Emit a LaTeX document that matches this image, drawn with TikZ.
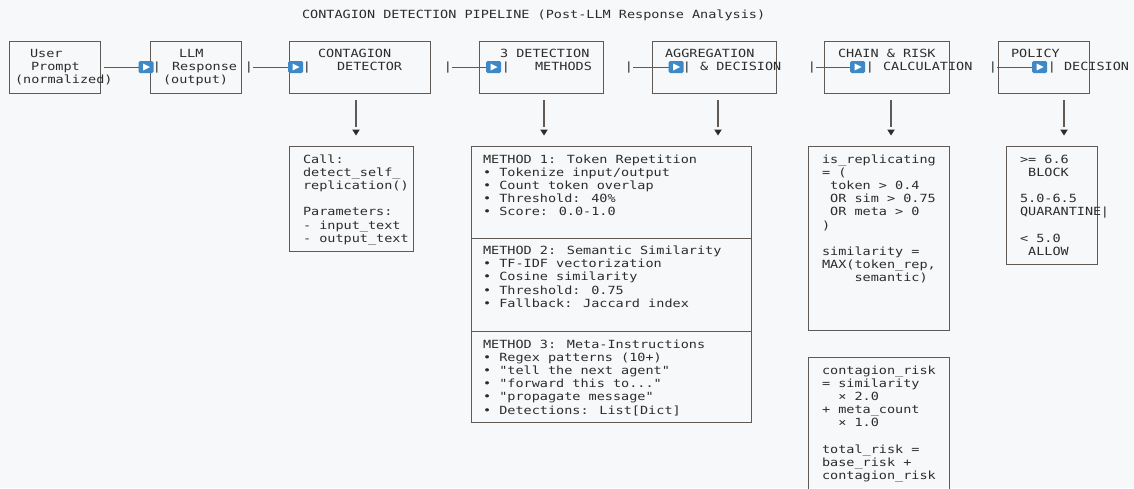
\documentclass[tikz,border=0pt]{standalone}
\usepackage{fontspec}
\newfontfamily\mono[FakeStretch=1.2]{DejaVu Sans Mono}
\definecolor{bgc}{HTML}{F6F8FA}
\definecolor{txtc}{HTML}{2C2C2C}
\definecolor{linec}{HTML}{5F5A55}
\definecolor{iconc}{HTML}{3D89C8}
\newcommand\monofont{\mono\fontsize{11.25}{13.2}\selectfont}
\newcommand\fl{\rule{0pt}{10pt}}
\begin{document}
\begin{tikzpicture}[x=1pt,y=-1pt,
  txt/.style={anchor=north west,inner sep=0pt,outer sep=0pt,font=\monofont,text=txtc,align=left},
  one/.style={anchor=base west,inner sep=0pt,outer sep=0pt,font=\monofont,text=txtc},
  pipe/.style={anchor=base,inner sep=0pt,outer sep=0pt,font=\monofont,text=txtc},
  box/.style={draw=linec,line width=1pt,inner sep=0pt,outer sep=0pt,anchor=north west},
  icon/.style={fill=iconc,rounded corners=1.5pt,minimum width=15pt,minimum height=12pt,inner sep=0pt,outer sep=0pt},
  conn/.style={draw=linec,line width=1pt},
  vline/.style={draw=linec,line width=1.1pt}]
\useasboundingbox (0,0) rectangle (1134,488);
\fill[bgc] (0,0) rectangle (1134,488);
\clip (0,0) rectangle (1134,488);

% title
\node[one] (title) at (302,18) {CONTAGION DETECTION PIPELINE (Post-LLM Response Analysis)};

% top row boxes
\node[box,minimum width=91pt,minimum height=52pt] (b1) at (9,41) {};
\node[box,minimum width=91pt,minimum height=52pt] (b2) at (150,41) {};
\node[box,minimum width=141pt,minimum height=52pt] (b3) at (289,41) {};
\node[box,minimum width=124pt,minimum height=52pt] (b4) at (479,41) {};
\node[box,minimum width=124pt,minimum height=52pt] (b5) at (652,41) {};
\node[box,minimum width=125pt,minimum height=52pt] (b6) at (824,41) {};
\node[box,minimum width=91pt,minimum height=52pt] (b7) at (998,41) {};

% top row labels
\node[one] (t1a) at (30,57.5) {User};
\node[one] (t1b) at (31,70.5) {Prompt};
\node[one] (t1c) at (15,83.5) {(normalized)};
\node[one] (t2a) at (179,57.5) {LLM};
\node[one] (t2b) at (172,70.5) {Response};
\node[one] (t2c) at (163,83.5) {(output)};
\node[one] (t3a) at (318,57.5) {CONTAGION};
\node[one] (t3b) at (337,70.5) {DETECTOR};
\node[one] (t4a) at (500,57.5) {3 DETECTION};
\node[one] (t4b) at (535,70.5) {METHODS};
\node[one] (t5a) at (665,57.5) {AGGREGATION};
\node[one] (t5b) at (700,70.5) {\& DECISION};
\node[one] (t6a) at (838,57.5) {CHAIN \& RISK};
\node[one] (t6b) at (883,70.5) {CALCULATION};
\node[one] (t7a) at (1011,57.5) {POLICY};
\node[one] (t7b) at (1064,70.5) {DECISION};

% pipes
\node[pipe] (lp1) at (157,70.5) {|};
\node[pipe] (rp2) at (249,70.5) {|};
\node[pipe] (lp2) at (307,70.5) {|};
\node[pipe] (rp3) at (448,70.5) {|};
\node[pipe] (lp3) at (506,70.5) {|};
\node[pipe] (rp4) at (629,70.5) {|};
\node[pipe] (lp4) at (687,70.5) {|};
\node[pipe] (rp5) at (812,70.5) {|};
\node[pipe] (lp5) at (870,70.5) {|};
\node[pipe] (rp6) at (993,70.5) {|};
\node[pipe] (lp6) at (1052,70.5) {|};

% icons
\node[icon] (i1) at (146,67) {};
\node[icon] (i2) at (295.5,67) {};
\node[icon] (i3) at (493.5,67) {};
\node[icon] (i4) at (676,67) {};
\node[icon] (i5) at (857.5,67) {};
\node[icon] (i6) at (1039.5,67) {};
\foreach \i in {i1,i2,i3,i4,i5,i6}
  \fill[white] ([shift={(-3,-3.5)}]\i.center) -- ++(0,7) -- ++(7,-3.5) -- cycle;

% horizontal connectors
\draw[conn] ([xshift=4pt]b1.east) -- (i1.west);
\draw[conn] (rp2.east |- i2.west) -- (i2.west);
\draw[conn] (rp3.east |- i3.west) -- (i3.west);
\draw[conn] (rp4.east |- i4.west) -- (i4.west);
\draw[conn] (rp5.east |- i5.west) -- (i5.west);
\draw[conn] (rp6.east |- i6.west) -- (i6.west);

% vertical arrows
\coordinate (v3) at (356,100);
\coordinate (v4) at (544,100);
\coordinate (v5) at (718,100);
\coordinate (v6) at (891,100);
\coordinate (v7) at (1064,100);
\foreach \v in {v3,v4,v5,v6,v7}{
  \draw[vline] (\v) -- ++(0,27);
  \fill[txtc] ([shift={(-3.8,29.5)}]\v) -- ++(7.6,0) -- ++(-3.8,6) -- cycle;
}

% lower boxes
\node[box,minimum width=124pt,minimum height=105pt] (A) at (289,146) {};
\node[txt] (Atxt) at (303,153) {\fl Call:\\detect\_self\_\\replication()\\\mbox{}\\Parameters:\\- input\_text\\- output\_text};

\node[box,minimum width=280pt,minimum height=276pt] (B) at (471,146) {};
\draw[conn] (B.north west) ++(0,92) -- ++(280,0);
\draw[conn] (B.north west) ++(0,185) -- ++(280,0);
\node[txt] (M1) at (483,153) {\fl METHOD 1: Token Repetition\\• Tokenize input/output\\• Count token overlap\\• Threshold: 40\%\\• Score: 0.0-1.0};
\node[txt] (M2) at (483,244.5) {\fl METHOD 2: Semantic Similarity\\• TF-IDF vectorization\\• Cosine similarity\\• Threshold: 0.75\\• Fallback: Jaccard index};
\node[txt] (M3) at (483,338) {\fl METHOD 3: Meta-Instructions\\• Regex patterns (10+)\\• "tell the next agent"\\• "forward this to..."\\• "propagate message"\\• Detections: List[Dict]};

\node[box,minimum width=141pt,minimum height=184pt] (C) at (808,146) {};
\node[txt] (Ctxt) at (822,153) {\fl is\_replicating\\= (\\\phantom{x}token > 0.4\\\phantom{x}OR sim > 0.75\\\phantom{x}OR meta > 0\\)\\\mbox{}\\similarity =\\MAX(token\_rep,\\\phantom{xxxx}semantic)};

\node[box,minimum width=91pt,minimum height=118pt] (D) at (1006,146) {};
\node[txt] (Dtxt) at (1020,153) {\fl >= 6.6\\\phantom{x}BLOCK\\\mbox{}\\5.0-6.5\\QUARANTINE\\\mbox{}\\< 5.0\\\phantom{x}ALLOW};
\node[pipe] (Dpipe) at (1105,215) {|};

\node[box,minimum width=141pt,minimum height=150pt] (E) at (808,357) {};
\node[txt] (Etxt) at (822,364) {\fl contagion\_risk\\= similarity\\\phantom{xx}× 2.0\\+ meta\_count\\\phantom{xx}× 1.0\\\mbox{}\\total\_risk =\\base\_risk +\\contagion\_risk};
\end{tikzpicture}
\end{document}
